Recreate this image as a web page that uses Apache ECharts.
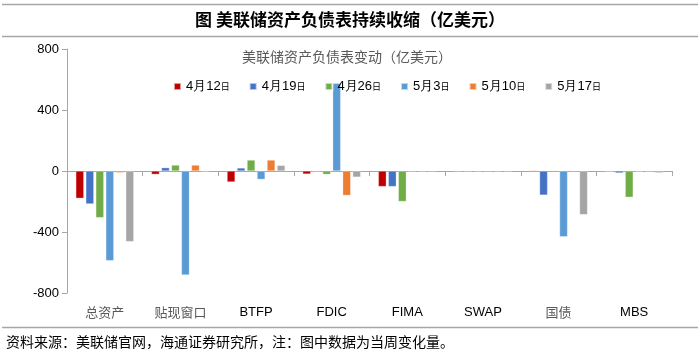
<!DOCTYPE html>
<html><head><meta charset="utf-8">
<script src="https://cdn.jsdelivr.net/npm/echarts@6/dist/echarts.min.js"></script>
<style>html,body{margin:0;padding:0;background:#fff;}#c{width:700px;height:355px;}</style>
</head><body><div id="c"></div>
<script>
const categories = ['总资产','贴现窗口','BTFP','FDIC','FIMA','SWAP','国债','MBS'];
const seriesNames = ['4月12日','4月19日','4月26日','5月3日','5月10日','5月17日'];
const apr12 = [-179, -22, -72, -20, -102, 1, 4, -2];
const apr19 = [-216, 22, 20, 0, -102, 0, -158, -13];
const apr26 = [-306, 39, 72, -22, -200, 0, 4, -172];
const may3  = [-588, -682, -55, 575, 0, 0, -431, -2];
const may10 = [-11, 39, 72, -160, 0, 0, 2, 0];
const may17 = [-463, -1, 37, -40, 0, 0, -286, -12];
const yTicks = [-800, -400, 0, 400, 800];
const colors = ['#C00000','#4472C4','#70AD47','#5B9BD5','#ED7D31','#A5A5A5'];
const seriesData = [apr12, apr19, apr26, may3, may10, may17];

const cjk = '"Noto Sans CJK SC", sans-serif';
const latin = '"Liberation Sans", Arial, sans-serif';

const chart = echarts.init(document.getElementById('c'), null, {renderer: 'canvas'});
chart.setOption({
  animation: false,
  backgroundColor: '#fff',
  graphic: [
    {type: 'line', shape: {x1: 2, y1: 4.5, x2: 698, y2: 4.5}, style: {stroke: '#a6a6a6', lineWidth: 1.5}},
    {type: 'line', shape: {x1: 2, y1: 36.5, x2: 698, y2: 36.5}, style: {stroke: '#a6a6a6', lineWidth: 1.5}},
    {type: 'text', x: 350, y: 20, style: {text: '图 美联储资产负债表持续收缩（亿美元）', font: 'bold 17px ' + cjk, fill: '#000', align: 'center', verticalAlign: 'middle'}},
    {type: 'text', x: 347, y: 57, style: {text: '美联储资产负债表变动（亿美元）', font: '14px ' + cjk, fill: '#595959', align: 'center', verticalAlign: 'middle'}},
    {type: 'line', shape: {x1: 2, y1: 327.5, x2: 698, y2: 327.5}, style: {stroke: '#a6a6a6', lineWidth: 1.5}},
    {type: 'text', x: 6, y: 342, style: {text: '资料来源：美联储官网，海通证券研究所，注：图中数据为当周变化量。', font: '14px ' + cjk, fill: '#000', verticalAlign: 'middle'}}
  ],
  legend: {
    left: 168, top: 75,
    itemWidth: 7, itemHeight: 7, itemGap: 19,
    icon: 'rect',
    data: seriesNames,
    z: 10,
    formatter: function (n) { return '{a|' + n.slice(0, -1) + '}{b|日}'; },
    textStyle: {
      rich: {
        a: {fontFamily: latin, fontSize: 13, color: '#000'},
        b: {fontFamily: cjk, fontSize: 9, color: '#000'}
      }
    }
  },
  grid: {left: 67, right: 28, top: 49, bottom: 62},
  xAxis: [
    {
      type: 'category', data: categories,
      axisLine: {onZero: true, lineStyle: {color: '#a6a6a6', width: 1}},
      axisTick: {show: true, interval: 0, alignWithLabel: false, length: 5, lineStyle: {color: '#a6a6a6'}},
      axisLabel: {show: false},
      splitLine: {show: false}
    },
    {
      type: 'category', data: categories, position: 'bottom',
      axisLine: {show: false, onZero: false}, axisTick: {show: false},
      axisLabel: {
        interval: 0,
        margin: 13,
        formatter: function (v) { return /^[A-Z]+$/.test(v) ? '{e|' + v + '}' : '{c|' + v + '}'; },
        rich: {
          e: {fontFamily: latin, fontSize: 13, color: '#000'},
          c: {fontFamily: cjk, fontSize: 13, color: '#595959'}
        }
      }
    }
  ],
  yAxis: {
    type: 'value', min: yTicks[0], max: yTicks[yTicks.length - 1], interval: 400,
    axisLine: {show: true, lineStyle: {color: '#a6a6a6'}},
    axisTick: {show: true, length: 5, lineStyle: {color: '#a6a6a6'}},
    axisLabel: {fontFamily: latin, fontSize: 13, color: '#000', margin: 8},
    splitLine: {show: false}
  },
  series: seriesData.map(function (d, i) {
    return {
      name: seriesNames[i], type: 'bar', data: d, xAxisIndex: 0,
      barWidth: 8, barGap: '25%',
      itemStyle: {color: colors[i], borderColor: 'rgba(255,255,255,0.6)', borderWidth: 0.5},
      z: 2
    };
  })
});
</script></body></html>
